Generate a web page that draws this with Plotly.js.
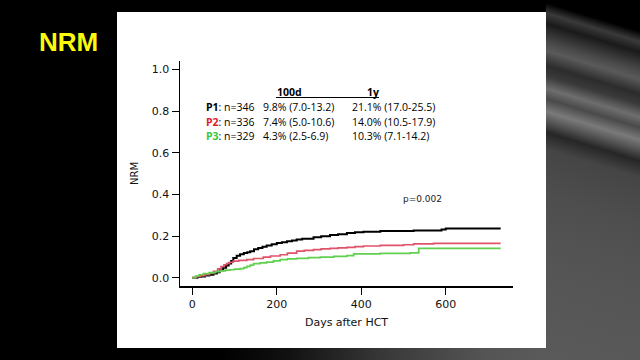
<!DOCTYPE html>
<html>
<head>
<meta charset="utf-8">
<script src="https://cdn.plot.ly/plotly-3.0.1.min.js"></script>
<style>
html,body{margin:0;padding:0;}
body{width:640px;height:360px;overflow:hidden;background:#000;}
#bg{position:absolute;left:0;top:0;width:640px;height:360px;
background: radial-gradient(ellipse 440px 330px at 660px 330px, #646464 0%, #555 40%, #3a3a3a 62%, #111 85%, #000 100%);
}
#streaks{position:absolute;left:546px;top:0;width:94px;height:360px;
background: linear-gradient(197deg,
  #000 0px, #000 30px, #3a3a3a 40px, #1a1a1a 50px, #4a4a4a 68px, #5a5a5a 76px, #2c2c2c 90px,
  #3a3a3a 100px, #6e6e6e 112px, #4a4a4a 122px, #7a7a7a 134px, #5a5a5a 142px, #262626 154px,
  #454545 170px, #4e4e4e 215px, #555 280px, #5a5a5a 380px);
}
#chart{position:absolute;left:0;top:0;width:640px;height:360px;}
</style>
</head>
<body>
<div id="bg"></div>
<div id="streaks"></div>
<div id="chart"></div>
<script>
// ---- data ----
var p1Days = [0, 12, 20, 30, 40, 50, 58, 65, 73, 80, 86, 92, 97, 105, 113, 122, 130, 137, 146, 156, 166, 176, 188, 200, 212, 224, 236, 247, 260, 287, 305, 326, 345, 366, 385, 405, 445, 524, 590, 600, 730];
var p1Vals = [0, 0.003, 0.006, 0.010, 0.014, 0.020, 0.026, 0.036, 0.048, 0.058, 0.068, 0.080, 0.095, 0.105, 0.113, 0.118, 0.122, 0.127, 0.136, 0.143, 0.148, 0.155, 0.160, 0.166, 0.170, 0.175, 0.178, 0.183, 0.187, 0.194, 0.199, 0.205, 0.209, 0.214, 0.218, 0.221, 0.224, 0.226, 0.231, 0.236, 0.236];

var p2Days = [0, 10, 20, 30, 40, 50, 60, 68, 75, 81, 88, 97, 110, 129, 145, 168, 185, 208, 225, 247, 265, 287, 305, 326, 345, 366, 385, 405, 445, 500, 524, 571, 730];
var p2Vals = [0, 0.005, 0.010, 0.015, 0.020, 0.030, 0.042, 0.053, 0.062, 0.068, 0.074, 0.079, 0.083, 0.087, 0.092, 0.099, 0.104, 0.110, 0.118, 0.127, 0.131, 0.135, 0.138, 0.141, 0.143, 0.145, 0.149, 0.152, 0.155, 0.158, 0.162, 0.165, 0.165];

var p3Days = [0, 8, 16, 26, 40, 55, 66, 78, 89, 100, 113, 122, 129, 137, 145, 160, 176, 192, 208, 225, 247, 275, 303, 335, 366, 382, 445, 516, 536, 730];
var p3Vals = [0, 0.008, 0.014, 0.019, 0.024, 0.029, 0.033, 0.036, 0.038, 0.041, 0.043, 0.048, 0.054, 0.060, 0.067, 0.071, 0.075, 0.081, 0.087, 0.090, 0.093, 0.096, 0.099, 0.102, 0.106, 0.114, 0.117, 0.119, 0.141, 0.141];

var seriesNames = ["P1", "P2", "P3"];
var seriesN = ["n=346", "n=336", "n=329"];
var at100d = ["9.8% (7.0-13.2)", "7.4% (5.0-10.6)", "4.3% (2.5-6.9)"];
var at1y = ["21.1% (17.0-25.5)", "14.0% (10.5-17.9)", "10.3% (7.1-14.2)"];
var colHeaders = ["100d", "1y"];
var pValueText = "p=0.002";
var xTicks = [0, 200, 400, 600];
var yTicks = [0, 0.2, 0.4, 0.6, 0.8, 1.0];

var lineColors = ["#000000", "#DF536B", "#61D04F"];
var labelColors = ["#000000", "#E0202A", "#3CC83C"];

// ---- layout helpers (pixel -> paper) ----
var L = 180, R = 513, T = 61, B = 286;
function px(x){ return (x - L) / (R - L); }
function py(y){ return (B - y) / (B - T); }

var traces = [
  {x: p1Days, y: p1Vals, mode: "lines", line: {shape: "hv", color: lineColors[0], width: 2}},
  {x: p2Days, y: p2Vals, mode: "lines", line: {shape: "hv", color: lineColors[1], width: 1.7}},
  {x: p3Days, y: p3Vals, mode: "lines", line: {shape: "hv", color: lineColors[2], width: 1.7}}
];

var tf = {family: "Open Sans, Noto Sans, sans-serif", size: 10.5, color: "#000"};
var ann = [];
ann.push({xref:"paper", yref:"paper", x:px(275), y:py(92), xanchor:"left", yanchor:"middle", text:"<b>" + colHeaders[0] + "</b>", showarrow:false, font:tf});
ann.push({xref:"paper", yref:"paper", x:px(365), y:py(92), xanchor:"left", yanchor:"middle", text:"<b>" + colHeaders[1] + "</b>", showarrow:false, font:tf});
var rowY = [107, 121.5, 135.5];
for (var i = 0; i < 3; i++) {
  ann.push({xref:"paper", yref:"paper", x:px(204), y:py(rowY[i]), xanchor:"left", yanchor:"middle",
    text:'<span style="color:' + labelColors[i] + '"><b>' + seriesNames[i] + '</b></span>: ' + seriesN[i], showarrow:false, font:tf});
  ann.push({xref:"paper", yref:"paper", x:px(261), y:py(rowY[i]), xanchor:"left", yanchor:"middle",
    text:at100d[i], showarrow:false, font:tf});
  ann.push({xref:"paper", yref:"paper", x:px(350), y:py(rowY[i]), xanchor:"left", yanchor:"middle",
    text:at1y[i], showarrow:false, font:tf});
}
ann.push({xref:"paper", yref:"paper", x:px(401), y:py(199), xanchor:"left", yanchor:"middle",
  text:pValueText, showarrow:false, font:{family:"DejaVu Sans", size:9, color:"#222"}});

var layout = {
  width: 640, height: 360,
  margin: {l: L, r: 640 - R, t: T, b: 360 - B, pad: 0},
  paper_bgcolor: "rgba(0,0,0,0)",
  plot_bgcolor: "rgba(0,0,0,0)",
  showlegend: false,
  title: {text: "<b>NRM</b>", xref: "container", yref: "container", x: 39/640, y: 1 - 42/360,
          xanchor: "left", yanchor: "middle", font: {family: "Liberation Sans, Arial, sans-serif", size: 26, color: "#FAFA0A"}},
  xaxis: {range: [-29.2, 759.2], showline: true, linecolor: "#000", linewidth: 1.5, mirror: false,
          ticks: "outside", ticklen: 7, tickwidth: 1, tickcolor: "#000", tickvals: xTicks,
          showgrid: false, zeroline: false,
          tickfont: {family: "DejaVu Sans", size: 11, color: "#111"},
          title: {text: "Days after HCT", font: {family: "DejaVu Sans", size: 11, color: "#111"}, standoff: 8}},
  yaxis: {range: [-0.04, 1.04], showline: true, linecolor: "#000", linewidth: 1.5,
          ticks: "outside", ticklen: 7, tickwidth: 1, tickcolor: "#000", tickvals: yTicks, tickformat: ".1f",
          showgrid: false, zeroline: false,
          tickfont: {family: "DejaVu Sans", size: 11, color: "#111"},
          title: {text: "NRM", font: {family: "DejaVu Sans", size: 10, color: "#111"}, standoff: 11}},
  shapes: [
    {type: "rect", xref: "paper", yref: "paper", x0: px(117), x1: px(546), y0: py(348), y1: py(12),
     fillcolor: "#ffffff", line: {width: 0}, layer: "below"},
    {type: "line", xref: "paper", yref: "paper", x0: px(276), x1: px(379), y0: py(97.5), y1: py(97.5),
     line: {color: "#000", width: 1}}
  ],
  annotations: ann
};

Plotly.newPlot("chart", traces, layout, {staticPlot: true, displayModeBar: false});
</script>
</body>
</html>
